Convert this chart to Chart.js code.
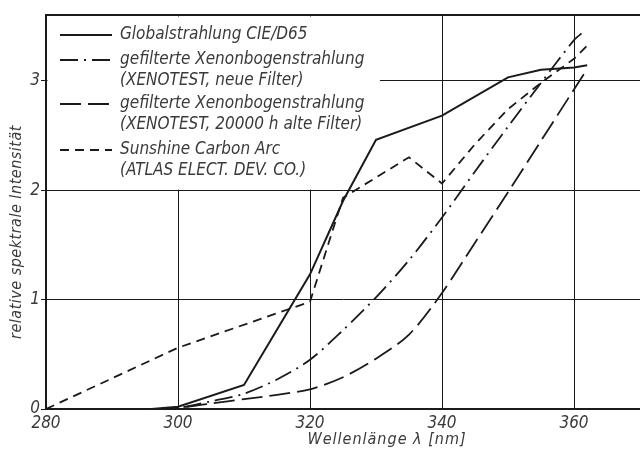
<!DOCTYPE html>
<html>
<head>
<meta charset="utf-8">
<script src="https://cdn.jsdelivr.net/npm/chart.js@4/dist/chart.umd.min.js"></script>
<style>
html,body{margin:0;padding:0;background:#fff;}
#wrap{width:640px;height:450px;position:relative;}
</style>
</head>
<body>
<div id="wrap"><canvas id="c" width="640" height="450"></canvas></div>
<script>
// ---- data ----
const xTicks = [280, 300, 320, 340, 360];
const yTicks = [0, 1, 2, 3];

const globalNm   = [296, 300, 310, 320, 325, 330, 340, 350, 355, 360, 362];
const globalVal  = [0, 0.02, 0.22, 1.23, 1.9, 2.46, 2.68, 3.03, 3.10, 3.12, 3.14];

const xenonNewNm  = [296, 300, 305, 310, 315, 320, 325, 330, 335, 340, 345, 350, 355, 360, 361.5];
const xenonNewVal = [0, 0.01, 0.07, 0.14, 0.27, 0.45, 0.72, 1.02, 1.36, 1.75, 2.17, 2.58, 2.98, 3.37, 3.45];

const xenonOldNm  = [297, 300, 305, 310, 315, 320, 325, 330, 335, 340, 345, 350, 355, 360, 361.5];
const xenonOldVal = [0, 0.01, 0.05, 0.09, 0.13, 0.18, 0.29, 0.46, 0.68, 1.06, 1.52, 1.98, 2.45, 2.92, 3.06];

const carbonNm  = [280, 300, 320, 325, 335, 340, 345, 350, 355, 360, 362.5];
const carbonVal = [0, 0.56, 0.98, 1.93, 2.30, 2.06, 2.42, 2.74, 2.98, 3.2, 3.35];

const legendLabels = [
  ['Globalstrahlung CIE/D65'],
  ['gefilterte Xenonbogenstrahlung', '(XENOTEST, neue Filter)'],
  ['gefilterte Xenonbogenstrahlung', '(XENOTEST, 20000 h alte Filter)'],
  ['Sunshine Carbon Arc', '(ATLAS ELECT. DEV. CO.)']
];
const xTitle = 'Wellenlänge \u03bb [nm]';
const yTitle = 'relative spektrale Intensität';

// ---- styles ----
const INK = '#1a1a1a';
const TXT = '#3a3a3a';
const FONT_FAMILY = '"Liberation Sans Narrow", "DejaVu Sans Condensed", sans-serif';
const dashes = [[], [18, 6, 2, 6], [21, 7], [9, 6]];

function pts(xs, ys){ return xs.map((v,i)=>({x:v, y:ys[i]})); }

const seriesData = [
  pts(globalNm, globalVal),
  pts(xenonNewNm, xenonNewVal),
  pts(xenonOldNm, xenonOldVal),
  pts(carbonNm, carbonVal)
];
const tensions = [0, 0.3, 0.3, 0];

const datasets = seriesData.map((d,i)=>({
  label: legendLabels[i].join(' '),
  data: d,
  borderColor: INK,
  borderWidth: i===0 ? 2 : 1.8,
  borderDash: dashes[i],
  pointRadius: 0,
  fill: false,
  tension: tensions[i]
}));

const decor = {
  id: 'decor',
  beforeDatasetsDraw(chart){
    const {ctx, chartArea:a, scales:{x, y}} = chart;
    ctx.save();
    // white legend panel hiding the grid behind it
    const mr = x.getPixelForValue(330.6);
    const mb = y.getPixelForValue(2);
    ctx.fillStyle = '#fff';
    ctx.fillRect(a.left + 1.5, a.top + 1.5, mr - a.left - 1.5, mb - a.top - 2);
    // legend
    const rows = [35, 81, 125, 171];
    const sampleX0 = a.left + 14, sampleX1 = a.left + 66, textX = a.left + 74;
    ctx.font = 'italic 17px ' + FONT_FAMILY;
    ctx.textBaseline = 'middle';
    ctx.textAlign = 'left';
    legendLabels.forEach((lines, i) => {
      const firstY = lines.length === 1 ? rows[i] : rows[i] - 21;
      ctx.strokeStyle = INK;
      ctx.lineWidth = 1.8;
      ctx.setLineDash(dashes[i]);
      ctx.beginPath();
      ctx.moveTo(sampleX0, firstY);
      ctx.lineTo(sampleX1, firstY);
      ctx.stroke();
      ctx.setLineDash([]);
      ctx.fillStyle = TXT;
      lines.forEach((t, k) => ctx.fillText(t, textX, firstY + k * 21));
    });
    ctx.restore();
  },
  afterDraw(chart){
    const {ctx, chartArea:a} = chart;
    ctx.save();
    ctx.strokeStyle = INK;
    ctx.lineWidth = 2;
    ctx.beginPath();
    ctx.moveTo(a.left, a.top);
    ctx.lineTo(a.right, a.top);
    ctx.stroke();
    ctx.fillStyle = TXT;
    ctx.font = 'italic 16px ' + FONT_FAMILY;
    ctx.textAlign = 'center';
    ctx.textBaseline = 'middle';
    ctx.letterSpacing = '1px';
    ctx.fillText(xTitle, 387, 440);
    ctx.letterSpacing = '0.5px';
    ctx.translate(17, 232);
    ctx.rotate(-Math.PI / 2);
    ctx.fillText(yTitle, 0, 0);
    ctx.restore();
  }
};

new Chart(document.getElementById('c'), {
  type: 'line',
  data: { datasets },
  options: {
    responsive: false,
    animation: false,
    layout: { padding: { top: 15, right: 0, left: 0, bottom: 0 } },
    plugins: { legend: { display: false }, tooltip: { enabled: false } },
    scales: {
      x: {
        type: 'linear',
        min: 280, max: 370,
        afterBuildTicks: s => { s.ticks = xTicks.map(v => ({value: v})); },
        afterFit: s => { s.height = 41; },
        grid: { color: INK, lineWidth: 1, drawTicks: false },
        border: { color: INK, width: 2 },
        ticks: { color: TXT, font: { family: FONT_FAMILY, size: 17, style: 'italic' }, padding: 4, maxRotation: 0 }
      },
      y: {
        type: 'linear',
        min: 0, max: 3.6,
        afterBuildTicks: s => { s.ticks = yTicks.map(v => ({value: v})); },
        afterFit: s => { s.width = 46; },
        grid: { color: INK, lineWidth: 1, drawTicks: true, tickLength: 5 },
        border: { color: INK, width: 2 },
        ticks: { color: TXT, font: { family: FONT_FAMILY, size: 17, style: 'italic' }, padding: 1 }
      }
    }
  },
  plugins: [decor]
});
</script>
</body>
</html>
